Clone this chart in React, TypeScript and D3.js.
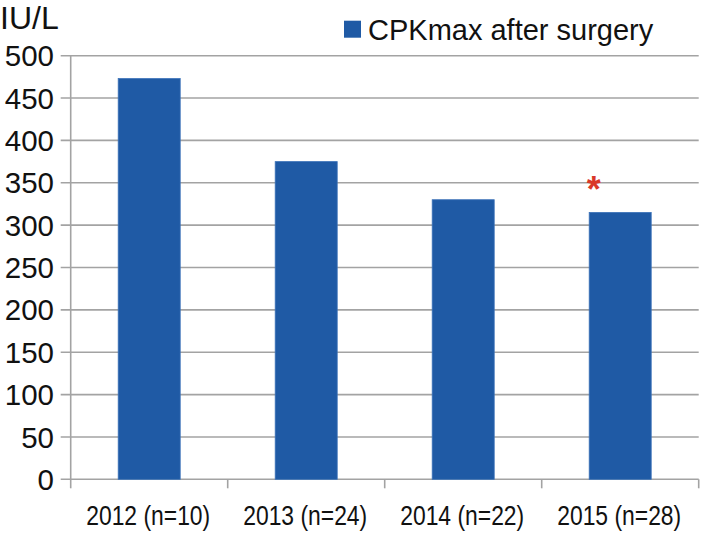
import { useEffect } from 'react';
import * as d3 from 'd3';

// chart data
const categories = ['2012 (n=10)', '2013 (n=24)', '2014 (n=22)', '2015 (n=28)'];
const cpkMax = [473, 375, 330, 315];
const yTicks = [0, 50, 100, 150, 200, 250, 300, 350, 400, 450, 500];
const seriesName = 'CPKmax after surgery';
const unitLabel = 'IU/L';
// significance marker, drawn above the 2015 bar
const marks = [{ category: '2015 (n=28)', value: 350, label: '*' }];

const width = 704;
const height = 536;
const margin = { top: 55.7, right: 5.3, bottom: 56.7, left: 70.7 };
const barColor = '#1f5aa5';
const gridColor = '#a3a3a3';

export default function App() {
  useEffect(() => {
    document.body.style.margin = '0';
  }, []);

  const x = d3.scaleBand<string>()
    .domain(categories)
    .range([margin.left, width - margin.right])
    .paddingInner(0.605)
    .paddingOuter(0.3025);

  const y = d3.scaleLinear()
    .domain([0, 500])
    .range([height - margin.bottom, margin.top]);

  const font = 'Arial, "Liberation Sans", Helvetica, sans-serif';
  const step = x.step();
  const gap = (step - x.bandwidth()) / 2;

  return (
    <svg width={width} height={height} style={{ display: 'block', background: '#fff' }} fontFamily={font}>
      {/* gridlines with outward ticks */}
      {yTicks.map(t => (
        <line key={t} x1={margin.left - 10} x2={width - margin.right} y1={y(t)} y2={y(t)}
          stroke={gridColor} strokeWidth={1.6} />
      ))}
      {/* y axis line */}
      <line x1={margin.left} x2={margin.left} y1={y(500)} y2={y(0)} stroke={gridColor} strokeWidth={1.6} />
      {/* x axis ticks between categories */}
      {categories.map(c => (
        <line key={c} x1={(x(c) as number) - gap} x2={(x(c) as number) - gap}
          y1={y(0)} y2={y(0) + 9} stroke={gridColor} strokeWidth={1.6} />
      ))}
      <line x1={width - margin.right} x2={width - margin.right} y1={y(0)} y2={y(0) + 9} stroke={gridColor} strokeWidth={1.6} />

      {/* bars */}
      {categories.map((c, i) => (
        <rect key={c} x={x(c)} y={y(cpkMax[i])} width={x.bandwidth()} height={y(0) - y(cpkMax[i])}
          fill={barColor} stroke="#3b72b8" strokeWidth={0.8} />
      ))}

      {/* y tick labels */}
      {yTicks.map(t => (
        <text key={t} x={54} y={y(t)} dy="0.36em" textAnchor="end" fontSize={29.5} fill="#111">{t}</text>
      ))}

      {/* x labels, condensed */}
      {categories.map(c => (
        <text key={c} x={(x(c) as number) + x.bandwidth() / 2 - 1} y={525} textAnchor="middle" fontSize={27.5}
          textLength={124} lengthAdjust="spacingAndGlyphs" fill="#111">{c}</text>
      ))}

      {/* significance marker */}
      {marks.map(m => (
        <text key={m.category} x={(x(m.category) as number) + 4.5} y={y(m.value)} dy="0.52em"
          textAnchor="middle" fontSize={36} fontWeight="bold" fill="#d9382a">{m.label}</text>
      ))}

      {/* unit label */}
      <text x={0} y={28.5} fontSize={32} fill="#111">{unitLabel}</text>

      {/* legend */}
      <rect x={344} y={20.7} width={17} height={17} fill={barColor} />
      <text x={368} y={40} fontSize={29} fill="#111">{seriesName}</text>
    </svg>
  );
}
